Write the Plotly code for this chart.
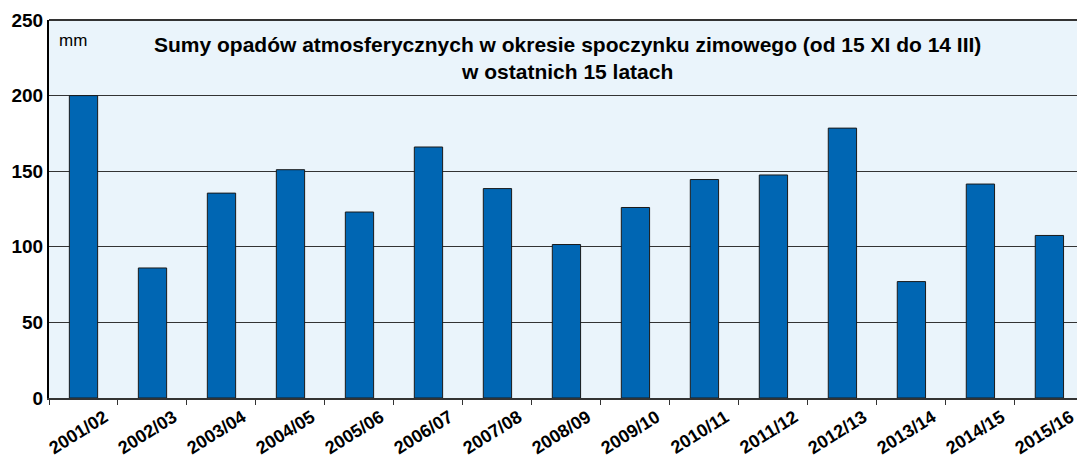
import plotly.graph_objects as go

seasons = ["2001/02", "2002/03", "2003/04", "2004/05", "2005/06", "2006/07", "2007/08",
           "2008/09", "2009/10", "2010/11", "2011/12", "2012/13", "2013/14", "2014/15", "2015/16"]
precip_mm = [200, 86, 135.5, 151, 123, 166, 138.5, 101.5, 126, 144.5, 147.5, 178.5, 77, 141.5, 107.5]
y_ticks = [0, 50, 100, 150, 200, 250]

title_lines = ["Sumy opadów atmosferycznych w okresie spoczynku zimowego (od 15 XI do 14 III)",
               "w ostatnich 15 latach"]

FONT = "Liberation Sans, Arial, sans-serif"

fig = go.Figure()
fig.add_trace(go.Bar(
    x=seasons, y=precip_mm,
    marker=dict(color="#0066B3", line=dict(color="#1a1a1a", width=1)),
    width=0.41,
))

fig.update_layout(
    width=1077, height=457,
    margin=dict(l=49, r=0, t=20, b=59),
    paper_bgcolor="white",
    plot_bgcolor="#EAF4FB",
    showlegend=False,
    font=dict(family=FONT, color="black"),
    annotations=[
        dict(text="<br>".join(title_lines),
             x=0.504, y=0.9, xref="paper", yref="paper", xanchor="center", yanchor="middle",
             showarrow=False, font=dict(size=21, color="black", weight="bold"), align="center"),
        dict(text="mm", x=0.008, y=0.947, xref="paper", yref="paper", xanchor="left",
             yanchor="middle", showarrow=False, font=dict(size=17, color="black")),
    ],
)

fig.update_xaxes(
    type="category",
    range=[-0.5, 14.4],
    automargin=False,
    tickangle=-32,
    tickfont=dict(size=18, family=FONT, weight="bold"),
    ticks="outside", tickson="boundaries", ticklen=5, tickcolor="#333333", tickwidth=1,
    showline=True, linecolor="#333333", linewidth=2,
    showgrid=False,
    ticklabelshift=21,
)

fig.update_yaxes(
    range=[0, 250],
    automargin=False,
    tickvals=y_ticks,
    tickfont=dict(size=19, family=FONT, weight="bold"),
    showline=True, linecolor="black", linewidth=2, mirror=False,
    showgrid=True, gridcolor="#333333", gridwidth=1,
    ticks="", zeroline=False,
)

fig.add_shape(type="line", xref="paper", yref="paper", x0=0, x1=1, y0=1, y1=1,
              line=dict(color="#333333", width=2))

fig.write_html("out.html",
               config={"displayModeBar": False},
               post_script="document.body.style.margin='0px';document.body.style.overflow='hidden';")
